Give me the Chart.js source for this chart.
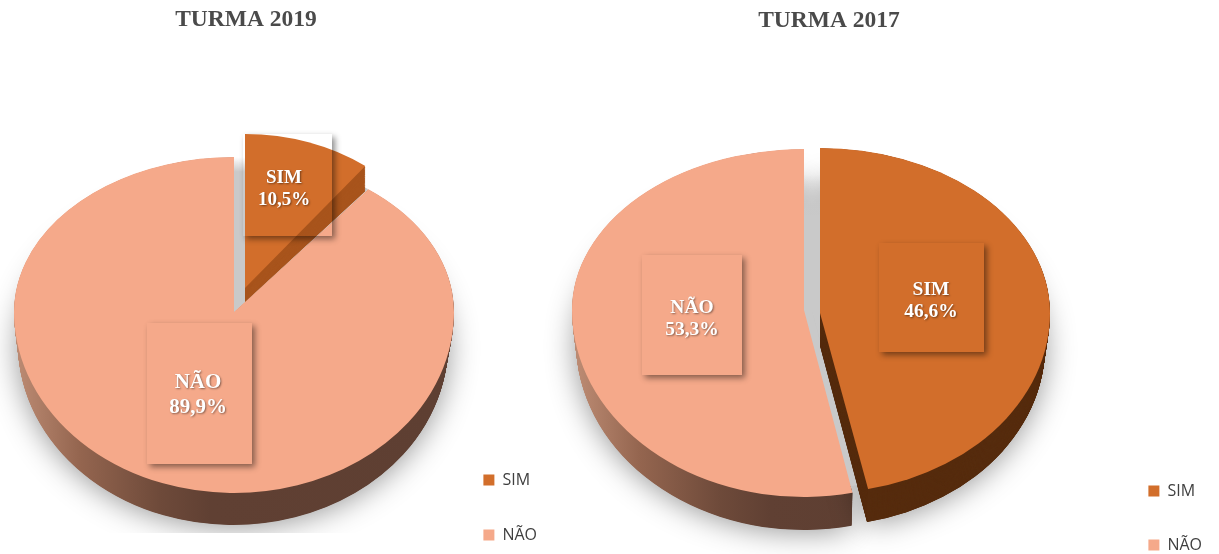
<!DOCTYPE html>
<html><head><meta charset="utf-8">
<style>html,body{margin:0;padding:0;background:#fff;width:1219px;height:554px;overflow:hidden}canvas{position:absolute;top:0}</style>
<script src="https://cdn.jsdelivr.net/npm/chart.js@4"></script></head>
<body><canvas id="c1" width="602" height="582" style="left:-55px"></canvas><canvas id="c2" width="766" height="591" style="left:446px"></canvas>
<script>
const categories=['SIM','NÃO'];
const turma2019=[10.5,89.9];
const turma2017=[46.6,53.3];
const SIM='#d26e2b',NAO='#f5a98a';
const lerp=(a,b,t)=>a+(b-a)*t;
function xGrad(stops){return (ctx,mx)=>{const x0=stops[0][0],x1=stops[stops.length-1][0];const g=ctx.createLinearGradient(mx(x0),0,mx(x1),0);stops.forEach(s=>g.addColorStop((s[0]-x0)/(x1-x0),s[1]));return g;};}
function yFade(y0,y1){return (ctx,mx,my)=>{const g=ctx.createLinearGradient(0,my(y0),0,my(y1));g.addColorStop(0,'rgba(201,201,201,0)');g.addColorStop(1,'#c9c9c9');return g;};}
function shape(ctx,arc,g,paint,off,shadow,H,clipB){
  const R=arc.outerRadius;
  [0,1].forEach(half=>{
    ctx.save();ctx.beginPath();
    if(half)ctx.rect(-off,g.cy,2000,(clipB||H)-g.cy);else ctx.rect(-off,0,2000,g.cy);
    ctx.clip();
    const sx=g.rx/R,sy=(half?g.down:g.up)/R;
    ctx.translate(g.cx-off,g.cy);ctx.scale(sx,sy);ctx.translate(-arc.x,-arc.y);
    const mx=X=>arc.x+(X-g.cx)/sx,my=Y=>arc.y+(Y-g.cy)/sy;
    const p=Object.create(arc);
    p.options={backgroundColor:typeof paint==='function'?paint(ctx,mx,my):paint,borderColor:'transparent',borderWidth:0,borderAlign:'center',borderRadius:0,offset:0,spacing:0,circular:true};
    if(shadow){ctx.shadowColor='rgba(0,0,0,0.42)';ctx.shadowBlur=30;ctx.shadowOffsetY=2;}
    p.draw(ctx);ctx.restore();
  });
}
function sides(ctx,arc,s,off,H,clipB,shadow){
  const n=Math.ceil((s.bottom.cy-s.top.cy)*2);
  for(let i=n;i>=1;i--){const t=i/n,g={};for(const k in s.top)g[k]=lerp(s.top[k],s.bottom[k],t);
    shape(ctx,arc,g,s.side,off,shadow&&i===n,H,clipB);}
}
function labelBox(ctx,b,off,label,value){
  ctx.save();ctx.beginPath();ctx.rect(-off,0,2000,600);ctx.rect(b.x0-off,b.y0,b.x1-b.x0,b.y1-b.y0);ctx.clip('evenodd');
  ctx.shadowColor='rgba(0,0,0,0.45)';ctx.shadowBlur=6;ctx.shadowOffsetX=3;ctx.shadowOffsetY=3;ctx.fillStyle='#000';
  ctx.fillRect(b.x0-off,b.y0,b.x1-b.x0,b.y1-b.y0);ctx.restore();
  ctx.save();ctx.fillStyle='#fff';ctx.textAlign='center';ctx.textBaseline='middle';
  ctx.font='bold '+b.size+'px "Liberation Serif"';ctx.shadowColor='rgba(0,0,0,0.45)';ctx.shadowBlur=2;ctx.shadowOffsetX=1;ctx.shadowOffsetY=1;
  ctx.fillText(label,b.tx-off,b.t1);ctx.fillText(value.toFixed(1).replace('.',',')+'%',b.tx-off,b.t2);ctx.restore();
}
function pie(id,off,title,values,cfg){
  new Chart(document.getElementById(id),{type:'pie',
    data:{labels:categories,datasets:[{data:values,backgroundColor:[SIM,NAO],borderWidth:0}]},
    options:{responsive:false,animation:false,rotation:0,radius:200,
      plugins:{tooltip:{enabled:false},
        title:{display:true,text:title,color:'#4a4a4a',font:{family:'"Liberation Serif"',size:23.5,weight:'bold'},padding:{top:cfg.titleTop,bottom:0}},
        legend:{position:'right',align:'end',labels:{boxWidth:11,boxHeight:11,padding:cfg.legendGap,color:'#404040',font:{family:'"Open Sans"',size:16}}}}},
    plugins:[{id:'pie3d',beforeDatasetsDraw(chart){
      const ctx=chart.ctx,arcs=chart.getDatasetMeta(0).data,H=chart.height;
      const [aS,aN]=arcs;
      sides(ctx,aN,cfg.nao,off,H,cfg.clipB,true);
      if(cfg.simShadow)sides(ctx,aS,cfg.sim,off,H,cfg.clipB,true);
      cfg.home.forEach(h=>shape(ctx,h.simArc?aS:aN,h.g,yFade(h.f0,h.f1),off,false,H));
      shape(ctx,aN,cfg.nao.top,NAO,off,false,H);
      sides(ctx,aS,cfg.sim,off,H,cfg.clipB,false);
      shape(ctx,aS,cfg.sim.top,SIM,off,false,H);
      labelBox(ctx,cfg.boxes[0],off,categories[0],values[0]);
      labelBox(ctx,cfg.boxes[1],off,categories[1],values[1]);
      return false;
    }}]});
}
pie('c1',-55,'TURMA 2019',turma2019,{titleTop:6,legendGap:39,clipB:533,
  nao:{top:{cx:234,cy:312,rx:220,up:155,down:181},bottom:{cx:233,cy:344,rx:215,up:155,down:181},
    side:xGrad([[18,'#bb8a72'],[80,'#94654f'],[160,'#6e4a3a'],[210,'#604033'],[453,'#5e3f32']])},
  sim:{top:{cx:245,cy:288,rx:197,up:154,down:100},bottom:{cx:245,cy:302,rx:197,up:140,down:100},side:'#a8541c'},
  home:[{simArc:true,f0:157,f1:172,g:{cx:234,cy:312,rx:220,up:155,down:181}}],
  boxes:[{x0:243,x1:332,y0:134,y1:236,tx:284,t1:178,t2:200,size:19},{x0:147,x1:252,y0:323,y1:464,tx:198,t1:383,t2:408,size:21}]});
pie('c2',446,'TURMA 2017',turma2017,{titleTop:7,legendGap:38,
  nao:{top:{cx:804,cy:310,rx:232,up:161,down:187},bottom:{cx:804,cy:342,rx:228,up:161,down:188},
    side:xGrad([[578,'#bb8a72'],[640,'#94654f'],[720,'#6e4a3a'],[770,'#604033'],[860,'#5e3f32']])},
  sim:{top:{cx:820,cy:313,rx:230,up:165,down:180},bottom:{cx:820,cy:346,rx:225,up:165,down:180},side:'#562c0e'},
  simShadow:true,
  home:[{simArc:true,f0:175,f1:215,g:{cx:812,cy:311,rx:225,up:160,down:178}},{simArc:false,f0:175,f1:215,g:{cx:812,cy:311,rx:225,up:160,down:178}}],
  boxes:[{x0:879,x1:984,y0:243,y1:352,tx:931,t1:290,t2:312,size:19.5},{x0:642,x1:742,y0:255,y1:375,tx:692,t1:308,t2:330,size:19.5}]});
</script></body></html>
